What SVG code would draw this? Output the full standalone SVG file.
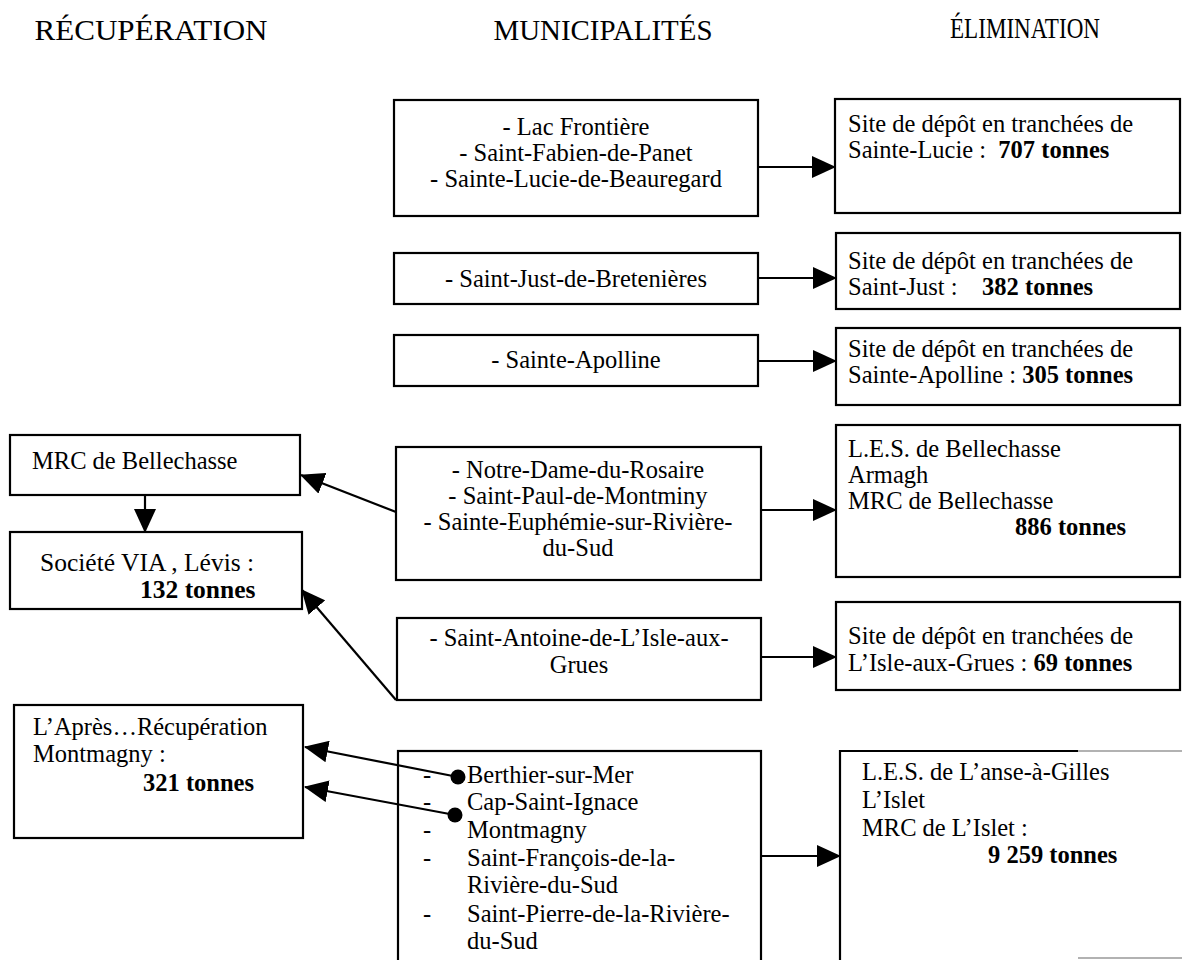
<svg xmlns="http://www.w3.org/2000/svg" width="1182" height="960" viewBox="0 0 1182 960">
<defs>
<style>
text{font-family:"Liberation Serif","Times New Roman",serif;font-size:24.5px;fill:#000}
.h{font-size:30px}
.c{text-anchor:middle}
.b{font-weight:bold}
.big{font-size:25.5px}
.box{fill:#fff;stroke:#000;stroke-width:2.2}
.ln{fill:none;stroke:#000;stroke-width:2.2}
</style>
<marker id="ah" markerUnits="userSpaceOnUse" markerWidth="24" markerHeight="22" viewBox="0 0 24 22" refX="23" refY="11" orient="auto">
<path d="M0,0 L24,11 L0,22 z" fill="#000"/>
</marker>
</defs>
<rect width="1182" height="960" fill="#fff"/>

<g id="headers">
<text class="h c" x="151" y="40" textLength="233" lengthAdjust="spacingAndGlyphs">RÉCUPÉRATION</text>
<text class="h c" x="603" y="40" textLength="219" lengthAdjust="spacingAndGlyphs">MUNICIPALITÉS</text>
<text class="h c" x="1025" y="38" textLength="150" lengthAdjust="spacingAndGlyphs">ÉLIMINATION</text>
</g>

<g id="m1">
<rect class="box" x="394" y="100" width="364" height="116"/>
<text class="c" x="576" y="135">- Lac Frontière</text>
<text class="c" x="576" y="161">- Saint-Fabien-de-Panet</text>
<text class="c" x="576" y="187">- Sainte-Lucie-de-Beauregard</text>
</g>
<g id="m2">
<rect class="box" x="394" y="253" width="364" height="51"/>
<text class="c" x="576" y="287">- Saint-Just-de-Bretenières</text>
</g>
<g id="m3">
<rect class="box" x="394" y="335" width="364" height="51"/>
<text class="c" x="576" y="368">- Sainte-Apolline</text>
</g>
<g id="m4">
<rect class="box" x="396" y="447" width="365" height="133"/>
<text class="c" x="578" y="478">- Notre-Dame-du-Rosaire</text>
<text class="c" x="578" y="504">- Saint-Paul-de-Montminy</text>
<text class="c" x="578" y="530">- Sainte-Euphémie-sur-Rivière-</text>
<text class="c" x="578" y="556">du-Sud</text>
</g>
<g id="m5">
<rect class="box" x="397" y="618" width="364" height="82"/>
<text class="c" x="579" y="646">- Saint-Antoine-de-L’Isle-aux-</text>
<text class="c" x="579" y="673">Grues</text>
</g>
<g id="m6">
<rect class="box" x="398" y="751" width="363" height="220"/>
<text x="423" y="783">-</text><text x="467" y="783">Berthier-sur-Mer</text>
<text x="423" y="810">-</text><text x="467" y="810">Cap-Saint-Ignace</text>
<text x="423" y="838">-</text><text x="467" y="838">Montmagny</text>
<text x="423" y="866">-</text><text x="467" y="866">Saint-François-de-la-</text>
<text x="467" y="893">Rivière-du-Sud</text>
<text x="423" y="922">-</text><text x="467" y="922">Saint-Pierre-de-la-Rivière-</text>
<text x="467" y="949">du-Sud</text>
</g>

<g id="e1">
<rect class="box" x="835" y="99" width="345" height="114"/>
<text x="848" y="132">Site de dépôt en tranchées de</text>
<text x="848" y="158" xml:space="preserve">Sainte-Lucie :  <tspan class="b">707 tonnes</tspan></text>
</g>
<g id="e2">
<rect class="box" x="836" y="233" width="344" height="76"/>
<text x="848" y="269">Site de dépôt en tranchées de</text>
<text x="848" y="295" xml:space="preserve">Saint-Just :    <tspan class="b">382 tonnes</tspan></text>
</g>
<g id="e3">
<rect class="box" x="836" y="328" width="344" height="77"/>
<text x="848" y="357">Site de dépôt en tranchées de</text>
<text x="848" y="383">Sainte-Apolline : <tspan class="b">305 tonnes</tspan></text>
</g>
<g id="e4">
<rect class="box" x="836" y="425" width="344" height="152"/>
<text x="848" y="457">L.E.S. de Bellechasse</text>
<text x="848" y="483">Armagh</text>
<text x="848" y="509">MRC de Bellechasse</text>
<text class="b" x="1015" y="535">886 tonnes</text>
</g>
<g id="e5">
<rect class="box" x="836" y="602" width="344" height="88"/>
<text x="848" y="644">Site de dépôt en tranchées de</text>
<text x="848" y="671">L’Isle-aux-Grues : <tspan class="b">69 tonnes</tspan></text>
</g>
<g id="e6">
<path class="ln" d="M840,962 L840,751 L1078,751"/>
<path d="M1078,751 L1182,751 M1078,958 L1182,958" fill="none" stroke="#999" stroke-width="1.5"/>
<text x="862" y="780">L.E.S. de L’anse-à-Gilles</text>
<text x="862" y="808">L’Islet</text>
<text x="862" y="836">MRC de L’Islet :</text>
<text class="b" x="988" y="863">9 259 tonnes</text>
</g>

<g id="r1">
<rect class="box" x="10" y="435" width="290" height="60"/>
<text x="32" y="469">MRC de Bellechasse</text>
</g>
<g id="r2">
<rect class="box" x="10" y="532" width="292" height="77"/>
<text class="big" x="40" y="571">Société VIA , Lévis :</text>
<text class="big b" x="140" y="598">132 tonnes</text>
</g>
<g id="r3">
<rect class="box" x="14" y="705" width="289" height="133"/>
<text x="33" y="735">L’Après…Récupération</text>
<text x="33" y="762">Montmagny :</text>
<text class="b" x="143" y="791">321 tonnes</text>
</g>

<g id="connectors">
<line class="ln" x1="758" y1="167" x2="835" y2="167" marker-end="url(#ah)"/>
<line class="ln" x1="758" y1="278" x2="836" y2="278" marker-end="url(#ah)"/>
<line class="ln" x1="758" y1="361" x2="836" y2="361" marker-end="url(#ah)"/>
<line class="ln" x1="761" y1="510" x2="836" y2="510" marker-end="url(#ah)"/>
<line class="ln" x1="761" y1="657" x2="836" y2="657" marker-end="url(#ah)"/>
<line class="ln" x1="761" y1="856" x2="840" y2="856" marker-end="url(#ah)"/>
<line class="ln" x1="396" y1="512" x2="301" y2="475" marker-end="url(#ah)"/>
<line class="ln" x1="396" y1="700" x2="302" y2="590" marker-end="url(#ah)"/>
<line class="ln" x1="145" y1="495" x2="145" y2="532" marker-end="url(#ah)"/>
<line class="ln" x1="458" y1="777" x2="305" y2="747" marker-end="url(#ah)"/>
<line class="ln" x1="455" y1="815" x2="305" y2="787" marker-end="url(#ah)"/>
<circle cx="458" cy="777" r="7.5" fill="#000"/>
<circle cx="455" cy="815" r="7.5" fill="#000"/>
</g>
</svg>
